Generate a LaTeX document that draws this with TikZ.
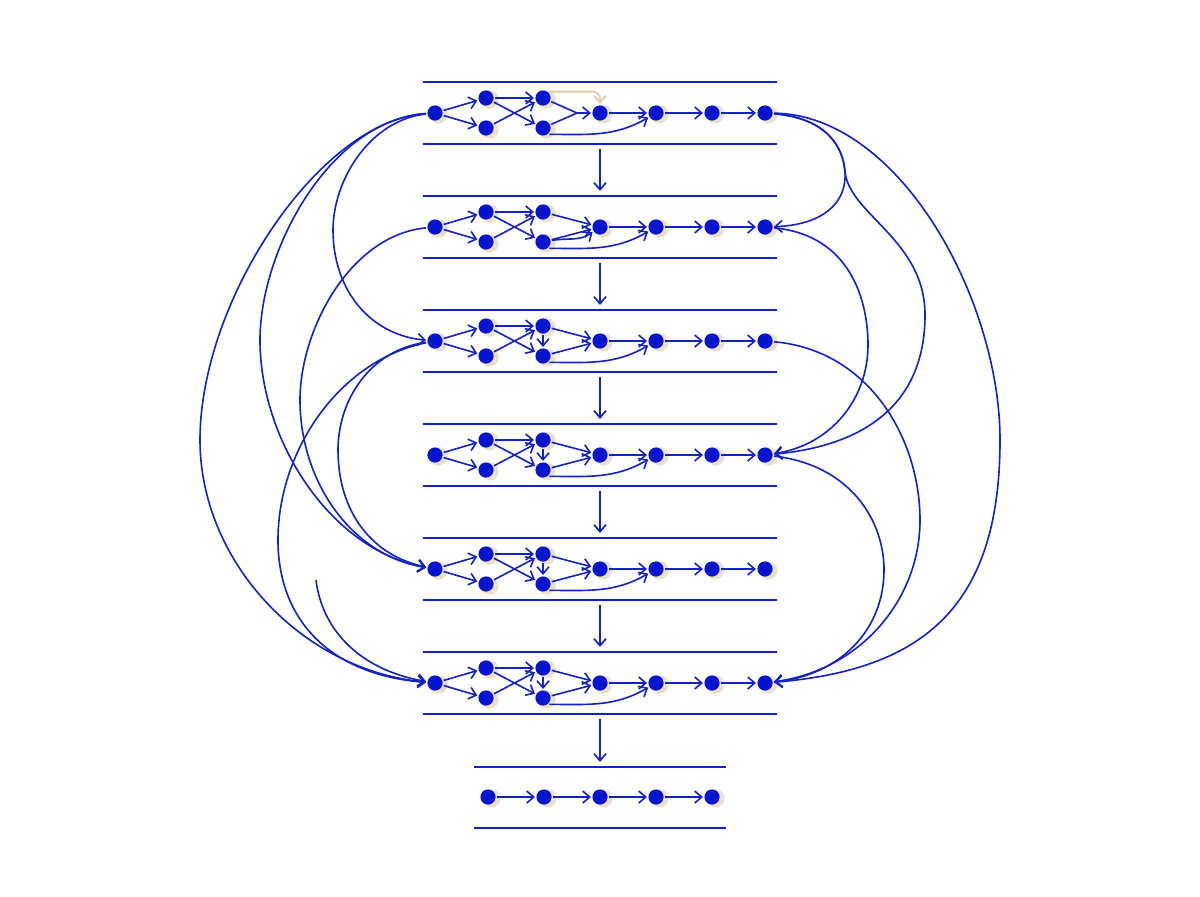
\documentclass[tikz,border=0pt]{standalone}
\usepackage{tikz}
\usepackage{xcolor}
\usetikzlibrary{
    arrows.meta,
    shadows,
    calc
}
\definecolor{dotblue}{RGB}{5, 20, 205}
\definecolor{edgeblue}{RGB}{20, 35, 190}
\definecolor{shadebeige}{RGB}{236, 224, 200}
\definecolor{hintbeige}{RGB}{225, 205, 165}

\begin{document}
\begin{tikzpicture}[
        x=0.025cm, y=-0.025cm,
        dot/.style={circle, fill=dotblue, inner sep=0pt, minimum size=0.38cm, outer sep=1pt,
            circular drop shadow={fill=shadebeige, opacity=1, shadow scale=1.3,
                shadow xshift=0.06cm, shadow yshift=-0.02cm}},
        link/.style={-{Straight Barb[length=5pt, width=8.5pt]}, edgeblue, line width=1.15pt},
        arrow/.style={-{Straight Barb[length=5pt, width=8.5pt]}, edgeblue, line width=1.2pt},
        bar/.style={edgeblue, line width=1.5pt}
    ]
        % Frame
        \useasboundingbox (0,0) rectangle (1200,896);

        % Rows
        \foreach \r/\y in {1/113, 2/227, 3/341, 4/455, 5/569, 6/683} {
            \draw[bar] (423, \y-31) -- (777, \y-31);
            \draw[bar] (423, \y+31) -- (777, \y+31);
            \coordinate (top\r) at (600, \y-36);
            \coordinate (bot\r) at (600, \y+36);

            \node[dot] (s\r) at (435, \y) {};
            \node[dot] (a\r) at (486, \y-15) {};
            \node[dot] (b\r) at (486, \y+15) {};
            \node[dot] (c\r) at (543, \y-15) {};
            \node[dot] (d\r) at (543, \y+15) {};
            \node[dot] (e\r) at (600, \y) {};
            \node[dot] (f\r) at (656, \y) {};
            \node[dot] (g\r) at (712, \y) {};
            \node[dot] (h\r) at (765, \y) {};

            \draw[link] (s\r) -- (a\r);
            \draw[link] (s\r) -- (b\r);
            \draw[link] (a\r) -- (c\r);
            \draw[link] (a\r) -- (d\r);
            \draw[link] (b\r) -- (c\r);
            \draw[link] (d\r.south east) to[out=0, in=210] (f\r);
            \draw[link] (e\r) -- (f\r);
            \draw[link] (f\r) -- (g\r);
            \draw[link] (g\r) -- (h\r);
        }

        % Row 1 extras
        \coordinate (j1) at (577, 113);
        \draw[edgeblue, line width=1.15pt] (c1) -- (j1) (d1) -- (j1);
        \draw[link] (j1) -- (e1);
        \draw[link, hintbeige, line width=1.3pt, rounded corners=5pt] (c1.north east) -| (e1.north);

        % Rows 2-6 extras
        \foreach \r in {2,...,6} {
            \draw[link] (c\r) -- (e\r);
            \draw[link] (d\r) -- (e\r);
        }
        \draw[link] (d2) to[out=10, in=215] (e2);
        \foreach \r in {3,...,6} {
            \draw[link] (c\r) -- (d\r);
        }

        % Last row
        \draw[bar] (474, 767) -- (726, 767);
        \draw[bar] (474, 828) -- (726, 828);
        \coordinate (top7) at (600, 762);
        \node[dot] (p1) at (488, 797) {};
        \node[dot] (p2) at (544, 797) {};
        \node[dot] (p3) at (600, 797) {};
        \node[dot] (p4) at (656, 797) {};
        \node[dot] (p5) at (712, 797) {};
        \draw[link] (p1) -- (p2);
        \draw[link] (p2) -- (p3);
        \draw[link] (p3) -- (p4);
        \draw[link] (p4) -- (p5);

        % Down arrows
        \foreach \r/\n in {1/2, 2/3, 3/4, 4/5, 5/6, 6/7} {
            \draw[arrow] (bot\r) -- (top\n);
        }

        % Right loops
        \draw[link] (h1) .. controls (825,118) and (843,145) .. (845,172)
            .. controls (847,205) and (820,225) .. (h2);
        \draw[link] (h1) .. controls (825,118) and (843,145) .. (845,172)
            .. controls (850,215) and (925,240) .. (925,315)
            .. controls (925,400) and (870,445) .. (h4);
        \draw[link] (h1) .. controls (900,115) and (1000,300) .. (1000,440)
            .. controls (1000,610) and (920,670) .. (h6);
        \draw[link] (h2) .. controls (850,235) and (868,300) .. (868,345)
            .. controls (868,400) and (830,445) .. (h4);
        \draw[link] (h3) .. controls (870,350) and (920,440) .. (920,520)
            .. controls (920,600) and (860,670) .. (h6);
        \draw[link] (h4) .. controls (850,465) and (884,520) .. (884,570)
            .. controls (884,630) and (840,675) .. (h6);

        % Left loops
        \draw[link] (s1) .. controls (370,120) and (333,180) .. (333,230)
            .. controls (333,290) and (370,335) .. (s3);
        \draw[link] (s1) .. controls (330,120) and (260,250) .. (260,340)
            .. controls (260,440) and (330,550) .. (s5);
        \draw[link] (s1) .. controls (320,120) and (200,300) .. (200,440)
            .. controls (200,560) and (300,670) .. (s6);
        \draw[link] (s2) .. controls (350,235) and (300,330) .. (300,400)
            .. controls (300,480) and (350,555) .. (s5);
        \draw[link] (s3) .. controls (370,350) and (338,400) .. (338,450)
            .. controls (338,510) and (370,555) .. (s5);
        \draw[link] (s3) .. controls (340,360) and (278,450) .. (278,540)
            .. controls (278,620) and (330,675) .. (s6);
        \coordinate (loose) at (316, 580);
        \draw[link] (loose) .. controls (322,630) and (360,670) .. (s6);
    \end{tikzpicture}
\end{document}
